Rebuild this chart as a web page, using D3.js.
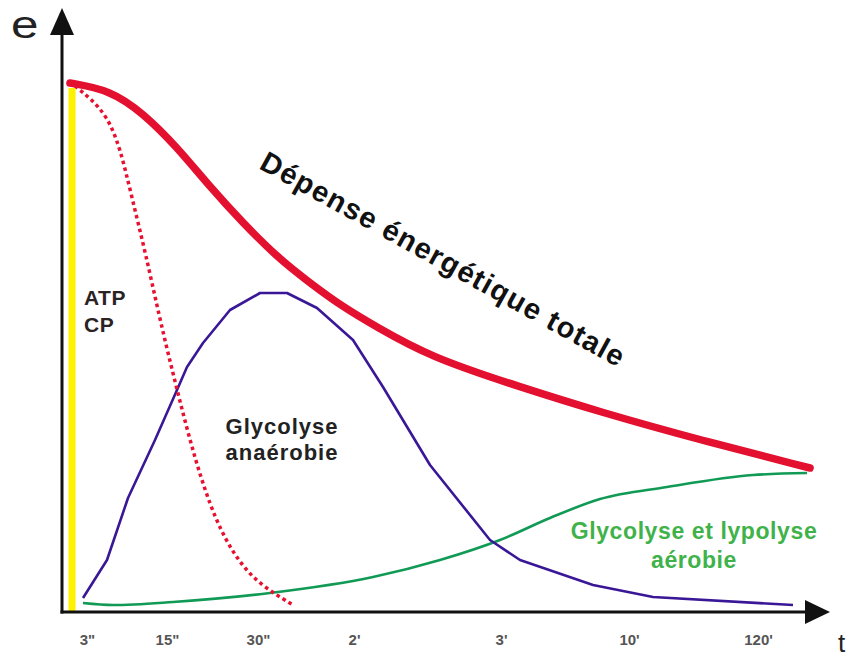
<!DOCTYPE html>
<html>
<head>
<meta charset="utf-8">
<script src="https://cdn.jsdelivr.net/npm/d3@7"></script>
<style>
  body { margin: 0; background: #fff; }
  text { font-family: "Liberation Sans", Arial, sans-serif; }
</style>
</head>
<body>
<div id="chart"></div>
<script>
// ------------------------------------------------------------------------ //
// DATA (x = position along time axis, y = energy, both in chart units)
// ------------------------------------------------------------------------ //

var tickLabels = ['3"', '15"', '30"', "2'", "3'", "10'", "120'"]
var tickPos = [25, 105, 196, 292, 439, 567, 696]

// total energy expenditure (thick red)
var totalX = [8, 48, 81, 115, 148, 181, 215, 248, 281, 313, 368, 458, 538, 638, 748]
var totalY = [529, 522, 499, 465, 425, 389, 355, 329, 305, 286, 255, 225, 200, 172, 144]

// ATP-CP (dotted red)
var atpX = [13, 28, 45, 58, 70, 84, 98, 115, 133, 153, 175, 198, 231]
var atpY = [526, 514, 496, 465, 414, 357, 292, 222, 152, 92, 52, 27, 7]

// anaerobic glycolysis (purple)
var anaX = [21, 45, 66, 93, 115, 125, 141, 168, 198, 225, 255, 291, 321, 368, 428, 458, 531, 591, 731]
var anaY = [14, 52, 114, 172, 222, 245, 269, 302, 319, 319, 304, 272, 225, 147, 72, 52, 27, 15, 7]

// aerobic glycolysis + lipolysis (green)
var aerX = [21, 51, 111, 208, 311, 378, 438, 488, 538, 605, 691, 745]
var aerY = [9, 7, 10, 19, 35, 52, 72, 94, 113, 125, 137, 139]

// yellow bar (ATP store)
var barX = [10]
var barTop = [524]

// ------------------------------------------------------------------------ //
// SVG AREA
// ------------------------------------------------------------------------ //

var width = 853, height = 663

var svg = d3.select("#chart")
  .append("svg")
    .attr("width", width)
    .attr("height", height)

var x = d3.scaleLinear().domain([0, 768]).range([62, 830])
var y = d3.scaleLinear().domain([0, 600]).range([612, 12])

function zip(xs, ys) { return xs.map(function(d, i){ return [d, ys[i]] }) }

// ------------------------------------------------------------------------ //
// SHAPES
// ------------------------------------------------------------------------ //

// yellow bar
svg.selectAll(".bar")
  .data(barX)
  .enter()
  .append("rect")
    .attr("x", function(d){ return x(d) - 3.5 })
    .attr("y", function(d, i){ return y(barTop[i]) })
    .attr("width", 7)
    .attr("height", function(d, i){ return y(0) - y(barTop[i]) })
    .style("fill", "#fff200")

var smooth = d3.line()
  .x(function(d){ return x(d[0]) })
  .y(function(d){ return y(d[1]) })
  .curve(d3.curveBasis)

var mono = d3.line()
  .x(function(d){ return x(d[0]) })
  .y(function(d){ return y(d[1]) })
  .curve(d3.curveMonotoneX)

var straight = d3.line()
  .x(function(d){ return x(d[0]) })
  .y(function(d){ return y(d[1]) })

// green
svg.append("path")
  .attr("d", mono(zip(aerX, aerY)))
  .style("fill", "none")
  .style("stroke", "#109a55")
  .style("stroke-width", 2.6)

// purple
svg.append("path")
  .attr("d", straight(zip(anaX, anaY)))
  .style("fill", "none")
  .style("stroke", "#3a1796")
  .style("stroke-width", 2.6)
  .style("stroke-linejoin", "round")

// dotted red
svg.append("path")
  .attr("d", smooth(zip(atpX, atpY)))
  .style("fill", "none")
  .style("stroke", "#e8102f")
  .style("stroke-width", 3.5)
  .style("stroke-dasharray", "3.5,3.5")

// thick red
svg.append("path")
  .attr("d", smooth(zip(totalX, totalY)))
  .style("fill", "none")
  .style("stroke", "#e3102f")
  .style("stroke-width", 7.5)
  .style("stroke-linecap", "round")

// ------------------------------------------------------------------------ //
// AXES
// ------------------------------------------------------------------------ //

svg.append("line")
  .attr("x1", x(0)).attr("y1", y(0) + 1.5)
  .attr("x2", x(0)).attr("y2", 30)
  .style("stroke", "#111").style("stroke-width", 3)
svg.append("line")
  .attr("x1", x(0) - 1.5).attr("y1", y(0))
  .attr("x2", 812).attr("y2", y(0))
  .style("stroke", "#111").style("stroke-width", 3)

// arrow heads
svg.append("path")
  .attr("d", "M" + x(0) + ",8 L" + (x(0) - 12) + ",35 L" + (x(0) + 12) + ",35 Z")
  .style("fill", "#111")
svg.append("path")
  .attr("d", "M830," + y(0) + " L805," + (y(0) - 12) + " L805," + (y(0) + 12) + " Z")
  .style("fill", "#111")

var xAxis = svg.append("g")
  .attr("transform", "translate(0," + y(0) + ")")
  .call(d3.axisBottom(x)
    .tickValues(tickPos)
    .tickFormat(function(d, i){ return tickLabels[i] })
    .tickSize(0)
    .tickPadding(22))
xAxis.select(".domain").remove()
xAxis.selectAll("text")
  .style("font-family", "'Liberation Sans', Arial, sans-serif")
  .style("font-size", "15px")
  .style("font-weight", "bold")
  .style("fill", "#555")

// axis names
svg.append("text").text("e")
  .attr("transform", "translate(11,38) scale(1.3,1)")
  .style("font-size", "38px").style("fill", "#222")
svg.append("text").text("t")
  .attr("x", 838).attr("y", 652)
  .style("font-size", "26px").style("fill", "#222")

// ------------------------------------------------------------------------ //
// LABELS
// ------------------------------------------------------------------------ //

function label(lines, cx, cy, size, color, anchor, lh, spacing) {
  var t = svg.append("text")
    .attr("text-anchor", anchor)
    .style("font-size", size + "px")
    .style("font-weight", "bold")
    .style("letter-spacing", spacing + "px")
    .style("fill", color)
  lines.forEach(function(l, i){
    t.append("tspan").attr("x", cx).attr("y", cy + i * lh).text(l)
  })
  return t
}

label(["ATP", "CP"], 84, 305, 21, "#2b2323", "start", 27, 0.5)
label(["Glycolyse", "anaérobie"], 282, 434, 22, "#222", "middle", 26, 1)
label(["Glycolyse et lypolyse", "aérobie"], 694, 539, 23, "#3fb24a", "middle", 29, 0.6)

svg.append("text")
  .text("Dépense énergétique totale")
  .attr("transform", "translate(258,168) rotate(29)")
  .style("font-size", "29px")
  .style("font-weight", "bold")
  .style("letter-spacing", "1.3px")
  .style("fill", "#111")
</script>
</body>
</html>
